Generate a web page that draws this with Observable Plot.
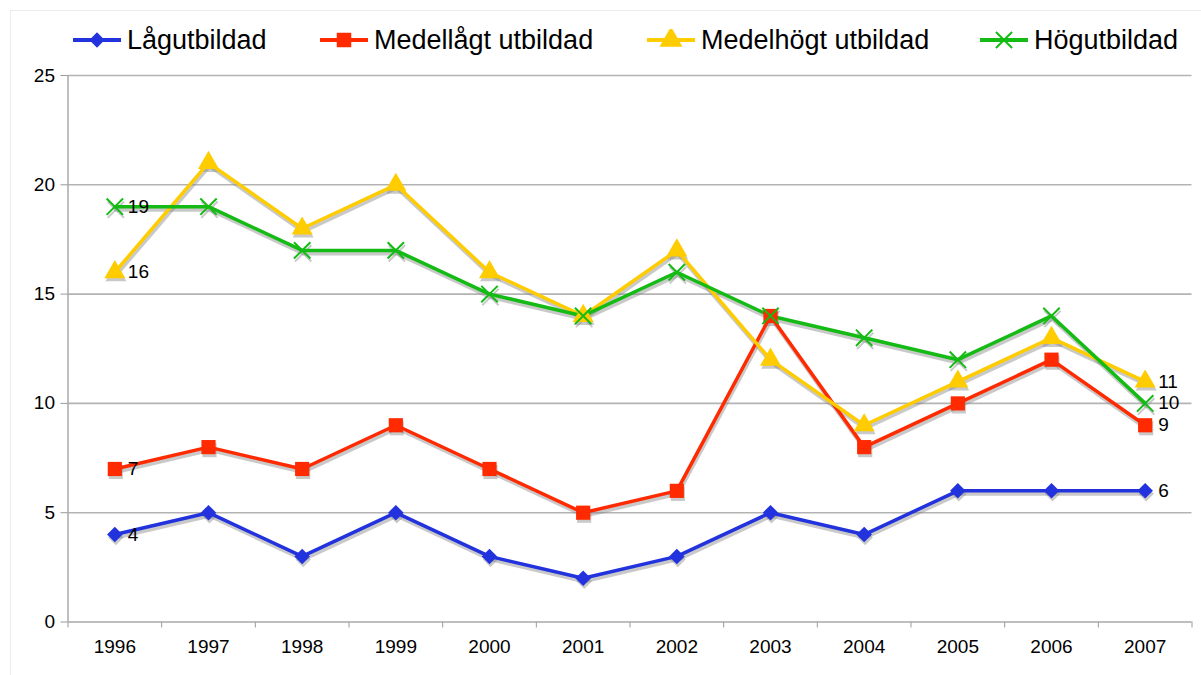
<!DOCTYPE html>
<html><head><meta charset="utf-8">
<script src="https://cdn.jsdelivr.net/npm/d3@7"></script>
<script src="https://cdn.jsdelivr.net/npm/@observablehq/plot@0.6"></script>
<style>
body{margin:0;background:#fff;font-family:"Liberation Sans",Arial,sans-serif;}
#wrap{position:relative;width:1201px;height:675px;overflow:hidden;background:#fff;}
#frame{position:absolute;left:10px;top:10px;width:1220px;height:700px;border:1px solid #ececec;}
#legend{position:absolute;left:0;top:0;width:1201px;height:66px;}
.item{position:absolute;top:22px;height:36px;display:flex;align-items:center;font-size:27px;color:#000;white-space:nowrap;}
.item svg{margin-right:6px;}
#chart{position:absolute;left:0;top:66px;}
</style></head>
<body>
<div id="wrap"><div id="frame"></div><div id="legend"></div><div id="chart"></div></div>
<script>
const years = [1996,1997,1998,1999,2000,2001,2002,2003,2004,2005,2006,2007];
const seriesNames = ["Lågutbildad","Medellågt utbildad","Medelhögt utbildad","Högutbildad"];
const lagutbildad   = [4,5,3,5,3,2,3,5,4,6,6,6];
const medellagt     = [7,8,7,9,7,5,6,14,8,10,12,9];
const medelhogt     = [16,21,18,20,16,14,17,12,9,11,13,11];
const hogutbildad   = [19,19,17,17,15,14,16,14,13,12,14,10];
const yTicks = [0,5,10,15,20,25];
const colors = ["#2233dd","#ff2a00","#ffcc00","#14bb14"];
const symbols = ["diamond2","square","triangle","times"];

const seriesValues = [lagutbildad, medellagt, medelhogt, hogutbildad];
const data = [];
seriesNames.forEach((s,i)=>years.forEach((y,j)=>data.push({series:s, year:y, value:seriesValues[i][j]})));
const bySeries = seriesNames.map(s=>data.filter(d=>d.series===s));
const labels = data.filter(d=>d.year===years[0]||d.year===years[years.length-1]);
const boundaries = d3.range(years[0]-0.5, years[years.length-1]+1, 1);

// legend
const legend = document.getElementById("legend");
const legendLeft = [73,320,647,980];
seriesNames.forEach((s,i)=>{
  const div = document.createElement("div");
  div.className="item"; div.style.left = legendLeft[i]+"px";
  const symType = {diamond2:d3.symbolDiamond2, square:d3.symbolSquare, triangle:d3.symbolTriangle, times:d3.symbolTimes}[symbols[i]];
  const size = [150,210,230,170][i];
  const path = d3.symbol(symType, size)();
  const isX = symbols[i]==="times";
  div.innerHTML = `<svg width="48" height="22" viewBox="0 0 48 22"><line x1="0" x2="48" y1="11" y2="11" stroke="${colors[i]}" stroke-width="4"/><path transform="translate(24,11)" d="${path}" fill="${isX?"none":colors[i]}" stroke="${colors[i]}" stroke-width="${isX?2:0}"/></svg><span>${s}</span>`;
  legend.appendChild(div);
});

const radii = [7, 8, 7.8, 7.5];
const markerMarks = (shadow) => bySeries.map((arr,i)=>{
  const isX = symbols[i]==="times";
  const base = {x: "year", y: "value", symbol: ()=>symbols[i], r: radii[i]};
  const col = shadow ? "#888" : colors[i];
  const extra = shadow ? {dx: 1, dy: 3} : {};
  return isX
    ? Plot.dot(arr, {...base, stroke: col, strokeWidth: 2, strokeOpacity: shadow?0.45:1, fill: "none", ...extra})
    : Plot.dot(arr, {...base, fill: col, fillOpacity: shadow?0.45:1, stroke: "none", ...extra});
});

const chart = Plot.plot({
  width: 1201, height: 609,
  marginTop: 9, marginBottom: 53.5, marginLeft: 67.5, marginRight: 9.5,
  style: {fontFamily: '"Liberation Sans", Arial, sans-serif', fontSize: "19px", color: "#000", background: "transparent"},
  x: {domain: [years[0]-0.5, years[years.length-1]+0.5], axis: null, label: null},
  y: {domain: [0,25], axis: null, label: null},
  symbol: {type: "identity"},
  marks: [
    Plot.ruleY(yTicks.slice(1), {stroke: "#b3b3b3", strokeWidth: 1.6}),
    Plot.axisY({ticks: yTicks, tickSize: 7, tickPadding: 6, stroke: "#9a9a9a", fontSize: 19, label: null, tickFormat: d=>String(d)}),
    Plot.axisX({ticks: boundaries, tickSize: 6, tickFormat: ()=>"", stroke: "#9a9a9a", label: null}),
    Plot.axisX({ticks: years, tickSize: 0, tickPadding: 17, fontSize: 19, label: null, tickFormat: d=>String(d)}),
    Plot.ruleX([years[0]-0.5], {stroke: "#a8a8a8", strokeWidth: 1.5}),
    Plot.ruleY([0], {stroke: "#a8a8a8", strokeWidth: 1.5}),
    // shadows
    Plot.line(data, {x: "year", y: "value", z: "series", stroke: "#888", strokeOpacity: 0.45, strokeWidth: 4, dx: 1, dy: 3}),
    ...markerMarks(true),
    // lines
    ...bySeries.map((arr,i)=>Plot.line(arr, {x: "year", y: "value", stroke: colors[i], strokeWidth: 3.5})),
    ...markerMarks(false),
    Plot.text(labels, {x: "year", y: "value", text: d=>String(d.value), textAnchor: "start", dx: 13, fontSize: 19, fill: "#000"})
  ]
});
document.getElementById("chart").appendChild(chart);
</script>
</body></html>
